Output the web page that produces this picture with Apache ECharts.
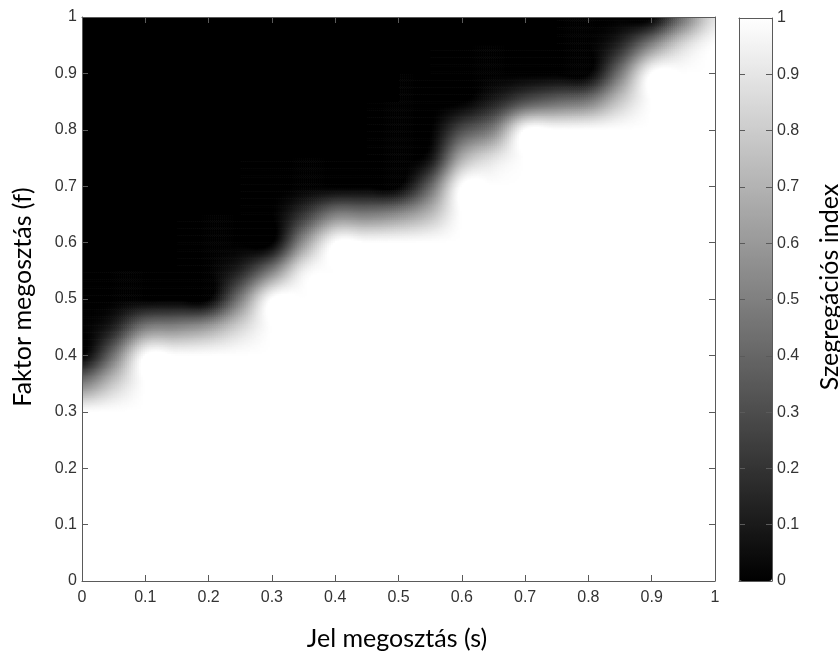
<!DOCTYPE html>
<html>
<head>
<meta charset="utf-8">
<title>Szegregációs index</title>
<script src="https://cdn.jsdelivr.net/npm/echarts@6/dist/echarts.min.js"></script>
<style>
  html, body { margin: 0; padding: 0; background: #ffffff; }
  #chart { width: 840px; height: 653px; }
</style>
</head>
<body>
<div id="chart"></div>
<script>
// Grid nodes: signal sharing (s) along x, factor sharing (f) along y
const sValues = [0, 0.05, 0.1, 0.15, 0.2, 0.25, 0.3, 0.35, 0.4, 0.45, 0.5,
                 0.55, 0.6, 0.65, 0.7, 0.75, 0.8, 0.85, 0.9, 0.95, 1];
const fValues = [0, 0.05, 0.1, 0.15, 0.2, 0.25, 0.3, 0.35, 0.4, 0.45, 0.5,
                 0.55, 0.6, 0.65, 0.7, 0.75, 0.8, 0.85, 0.9, 0.95, 1];

// Segregation index at each node; one row per f value (bottom row first),
// one column per s value.
const segregationIndex = [
  /* f=0.00 */ [1, 1, 1, 1, 1, 1, 1, 1, 1, 1, 1, 1, 1, 1, 1, 1, 1, 1, 1, 1, 1],
  /* f=0.05 */ [1, 1, 1, 1, 1, 1, 1, 1, 1, 1, 1, 1, 1, 1, 1, 1, 1, 1, 1, 1, 1],
  /* f=0.10 */ [1, 1, 1, 1, 1, 1, 1, 1, 1, 1, 1, 1, 1, 1, 1, 1, 1, 1, 1, 1, 1],
  /* f=0.15 */ [1, 1, 1, 1, 1, 1, 1, 1, 1, 1, 1, 1, 1, 1, 1, 1, 1, 1, 1, 1, 1],
  /* f=0.20 */ [1, 1, 1, 1, 1, 1, 1, 1, 1, 1, 1, 1, 1, 1, 1, 1, 1, 1, 1, 1, 1],
  /* f=0.25 */ [1, 1, 1, 1, 1, 1, 1, 1, 1, 1, 1, 1, 1, 1, 1, 1, 1, 1, 1, 1, 1],
  /* f=0.30 */ [1, 1, 1, 1, 1, 1, 1, 1, 1, 1, 1, 1, 1, 1, 1, 1, 1, 1, 1, 1, 1],
  /* f=0.35 */ [0.5, 0.78, 1, 1, 1, 1, 1, 1, 1, 1, 1, 1, 1, 1, 1, 1, 1, 1, 1, 1, 1],
  /* f=0.40 */ [0, 0.45, 1, 1, 1, 1, 1, 1, 1, 1, 1, 1, 1, 1, 1, 1, 1, 1, 1, 1, 1],
  /* f=0.45 */ [0, 0.13, 0.49, 0.54, 0.62, 0.83, 1, 1, 1, 1, 1, 1, 1, 1, 1, 1, 1, 1, 1, 1, 1],
  /* f=0.50 */ [0, 0, 0, 0, 0, 0.49, 1, 1, 1, 1, 1, 1, 1, 1, 1, 1, 1, 1, 1, 1, 1],
  /* f=0.55 */ [0, 0, 0, 0, 0, 0.15, 0.5, 0.93, 1, 1, 1, 1, 1, 1, 1, 1, 1, 1, 1, 1, 1],
  /* f=0.60 */ [0, 0, 0, 0, 0, 0, 0, 0.57, 1, 1, 1, 1, 1, 1, 1, 1, 1, 1, 1, 1, 1],
  /* f=0.65 */ [0, 0, 0, 0, 0, 0, 0, 0.21, 0.5, 0.5, 0.56, 0.73, 1, 1, 1, 1, 1, 1, 1, 1, 1],
  /* f=0.70 */ [0, 0, 0, 0, 0, 0, 0, 0, 0, 0, 0, 0.4, 1, 1, 1, 1, 1, 1, 1, 1, 1],
  /* f=0.75 */ [0, 0, 0, 0, 0, 0, 0, 0, 0, 0, 0, 0.07, 0.67, 0.88, 1, 1, 1, 1, 1, 1, 1],
  /* f=0.80 */ [0, 0, 0, 0, 0, 0, 0, 0, 0, 0, 0, 0, 0.3, 0.5, 1, 1, 1, 1, 1, 1, 1],
  /* f=0.85 */ [0, 0, 0, 0, 0, 0, 0, 0, 0, 0, 0, 0, 0, 0.12, 0.32, 0.42, 0.49, 0.78, 1, 1, 1],
  /* f=0.90 */ [0, 0, 0, 0, 0, 0, 0, 0, 0, 0, 0, 0, 0, 0, 0, 0, 0, 0.47, 1, 1, 1],
  /* f=0.95 */ [0, 0, 0, 0, 0, 0, 0, 0, 0, 0, 0, 0, 0, 0, 0, 0, 0, 0.16, 0.53, 0.85, 1],
  /* f=1.00 */ [0, 0, 0, 0, 0, 0, 0, 0, 0, 0, 0, 0, 0, 0, 0, 0, 0, 0, 0, 0.45, 0.88]
];

// Tick labels shared by both plot axes and the colour bar
const tickLabels = ['0', '0.1', '0.2', '0.3', '0.4', '0.5', '0.6', '0.7', '0.8', '0.9', '1'];

const xTitle = 'Jel megosztás (s)';
const yTitle = 'Faktor megosztás (f)';
const barTitle = 'Szegregációs index';

const nS = sValues.length, nF = fValues.length;

// One item per grid cell: its two corners, lower-left node value and cell indices
const cells = [];
for (let j = 0; j < nF - 1; j++) {
  for (let i = 0; i < nS - 1; i++) {
    cells.push([sValues[i], fValues[j], sValues[i + 1], fValues[j + 1],
                segregationIndex[j][i], i, j]);
  }
}

function node(i, j) {
  const ii = Math.max(0, Math.min(nS - 1, i));
  const jj = Math.max(0, Math.min(nF - 1, j));
  return segregationIndex[jj][ii];
}

// Catmull-Rom weights for smooth (bicubic) shading between nodes
function cubic(p0, p1, p2, p3, t) {
  return 0.5 * (2 * p1 + (-p0 + p2) * t +
    (2 * p0 - 5 * p1 + 4 * p2 - p3) * t * t +
    (-p0 + 3 * p1 - 3 * p2 + p3) * t * t * t);
}

function shade(i, j, u, t) {
  const col = [];
  for (let r = -1; r <= 2; r++) {
    col.push(cubic(node(i - 1, j + r), node(i, j + r), node(i + 1, j + r), node(i + 2, j + r), u));
  }
  const v = cubic(col[0], col[1], col[2], col[3], t);
  return Math.max(0, Math.min(1, v));
}

function flatNeighbourhood(i, j) {
  const ref = node(i, j);
  for (let r = -1; r <= 2; r++) {
    for (let c = -1; c <= 2; c++) {
      if (node(i + c, j + r) !== ref) return false;
    }
  }
  return true;
}

// Linear grey colour map: 0 -> black, 1 -> white
function grey(v) {
  const c = Math.round(Math.max(0, Math.min(1, v)) * 255);
  return 'rgb(' + c + ',' + c + ',' + c + ')';
}

const SUB = 16;
function renderCell(params, api) {
  const s0 = api.value(0), f0 = api.value(1), s1 = api.value(2), f1 = api.value(3);
  const i = api.value(5), j = api.value(6);
  const pBL = api.coord([s0, f0]);
  const pTR = api.coord([s1, f1]);
  const x0 = pBL[0], yB = pBL[1];
  const w = pTR[0] - x0, h = yB - pTR[1];
  if (flatNeighbourhood(i, j)) {
    return {
      type: 'rect',
      shape: { x: x0 - 0.5, y: pTR[1] - 0.5, width: w + 1, height: h + 1 },
      style: { fill: grey(api.value(4)) }
    };
  }
  const children = [];
  for (let a = 0; a < SUB; a++) {
    const u = (a + 0.5) / SUB;
    for (let b = 0; b < SUB; b++) {
      const t = (b + 0.5) / SUB;
      children.push({
        type: 'rect',
        shape: {
          x: x0 + a * w / SUB - 0.3,
          y: yB - (b + 1) * h / SUB - 0.3,
          width: w / SUB + 0.6,
          height: h / SUB + 0.6
        },
        style: { fill: grey(shade(i, j, u, t)) }
      });
    }
  }
  return { type: 'group', children: children };
}

const AXIS_COLOR = '#5a5a5a';
const LABEL_FONT = { fontFamily: 'Liberation Sans', fontSize: 16, color: '#333333' };
const tickFmt = (v) => tickLabels[Math.round(v * 10)];

function valueAxis(extra) {
  return Object.assign({
    type: 'value', min: 0, max: 1, interval: 0.1, z: 5,
    axisLine: { show: true, onZero: false, lineStyle: { color: AXIS_COLOR, width: 1 } },
    axisTick: { show: true, inside: true, length: 6, lineStyle: { color: AXIS_COLOR } },
    axisLabel: { show: false },
    splitLine: { show: false }
  }, extra);
}

const chart = echarts.init(document.getElementById('chart'), null, { renderer: 'canvas' });

chart.setOption({
  animation: false,
  backgroundColor: '#ffffff',
  grid: [
    { left: 82, top: 17, width: 633, height: 564, containLabel: false },
    { left: 739, top: 18, width: 33, height: 563, containLabel: false }
  ],
  xAxis: [
    valueAxis({ gridIndex: 0, position: 'bottom',
      axisLabel: Object.assign({ show: true, margin: 9, formatter: tickFmt }, LABEL_FONT) }),
    valueAxis({ gridIndex: 0, position: 'top' }),
    valueAxis({ gridIndex: 1, position: 'bottom', axisTick: { show: false } }),
    valueAxis({ gridIndex: 1, position: 'top', axisTick: { show: false } })
  ],
  yAxis: [
    valueAxis({ gridIndex: 0, position: 'left',
      axisLabel: Object.assign({ show: true, margin: 5, formatter: tickFmt }, LABEL_FONT) }),
    valueAxis({ gridIndex: 0, position: 'right' }),
    valueAxis({ gridIndex: 1, position: 'left' }),
    valueAxis({ gridIndex: 1, position: 'right',
      axisLabel: Object.assign({ show: true, margin: 5, formatter: tickFmt }, LABEL_FONT) })
  ],
  visualMap: {
    type: 'continuous',
    min: 0, max: 1,
    seriesIndex: 0,
    dimension: 4,
    calculable: false,
    hoverLink: false,
    orient: 'vertical',
    left: 739, top: 18,
    itemWidth: 33, itemHeight: 563,
    padding: 0,
    text: null,
    inRange: { color: ['#000000', '#ffffff'] }
  },
  series: [{
    type: 'custom',
    name: barTitle,
    xAxisIndex: 0, yAxisIndex: 0,
    coordinateSystem: 'cartesian2d',
    renderItem: renderCell,
    encode: { x: [0, 2], y: [1, 3] },
    clip: true,
    z: 1,
    silent: true,
    data: cells
  }],
  graphic: [
    { type: 'text', x: 23, y: 297, rotation: Math.PI / 2,
      style: { text: yTitle, fontFamily: 'Lato', fontSize: 25, fill: '#000000', align: 'center', verticalAlign: 'middle' } },
    { type: 'text', x: 397, y: 639,
      style: { text: xTitle, fontFamily: 'Lato', fontSize: 25, fill: '#000000', align: 'center', verticalAlign: 'middle' } },
    { type: 'text', x: 830, y: 287, rotation: Math.PI / 2,
      style: { text: barTitle, fontFamily: 'Lato', fontSize: 25, fill: '#000000', align: 'center', verticalAlign: 'middle' } }
  ]
});
</script>
</body>
</html>
